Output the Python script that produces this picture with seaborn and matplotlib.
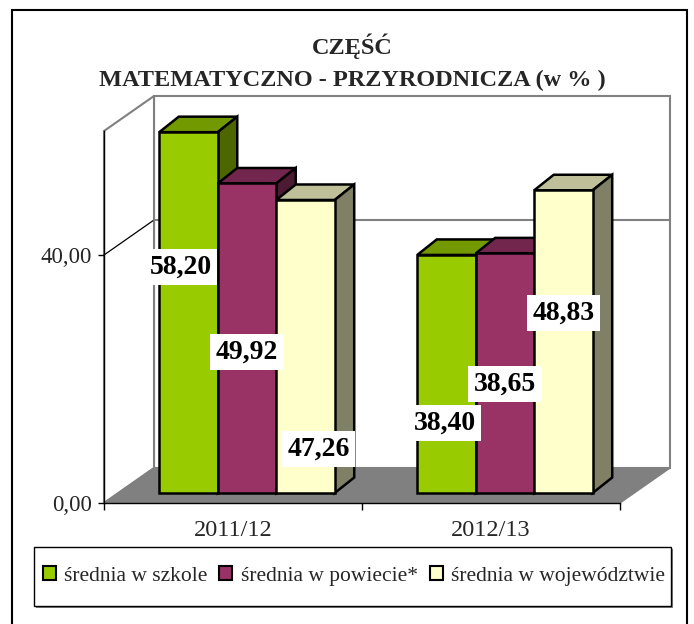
import numpy as np
import pandas as pd
import seaborn as sns
import matplotlib
matplotlib.use('Agg')
import matplotlib.pyplot as plt
from matplotlib.patches import Polygon, Rectangle
from matplotlib.lines import Line2D

# ---------------- data ----------------
years = ['2011/12', '2012/13']
series = ['średnia w szkole', 'średnia w powiecie*', 'średnia w województwie']
szkola = [58.20, 38.40]
powiat = [49.92, 38.65]
wojewodztwo = [47.26, 48.83]
y_ticks = [0, 40]
y_tick_labels = ['0,00', '40,00']
title_lines = ['CZĘŚĆ', 'MATEMATYCZNO - PRZYRODNICZA (w % )']

# ---------------- styles / layout ----------------
front_colors = ['#99CC00', '#993366', '#FFFFCC']
top_colors = ['#739900', '#73264D', '#BFBF99']
side_colors = ['#4D6600', '#4D1A33', '#808066']
# label placement (height above bar base, in axis units) and x shift in px, ordered by bar position
label_y = [36.4, 22.7, 7.1, 11.3, 17.6, 29.0]
label_dx_px = [-8, 0, 13, -2, 0, 0]

df = pd.DataFrame({
    'rok': years * 3,
    'seria': np.repeat(series, len(years)),
    'wartosc': szkola + powiat + wojewodztwo,
})

sns.set_theme(style='white')
plt.rcParams['font.family'] = ['Liberation Serif', 'DejaVu Serif']
SERIF = ['Liberation Serif', 'DejaVu Serif']

W, H = 694, 624
fig = plt.figure(figsize=(W / 100, H / 100), dpi=100)
fig.patch.set_facecolor('white')
ax = fig.add_axes([104 / W, 1 - 503 / H, 516 / W, 372 / H])

sns.barplot(data=df, x='rok', y='wartosc', hue='seria', hue_order=series,
            palette=front_colors, width=0.68, saturation=1, errorbar=None,
            edgecolor='black', linewidth=1.8, ax=ax)

ax.set_xlim(-0.5, 1.5)
ax.set_ylim(0, 60)
ax.patch.set_visible(False)
ax.set_xlabel('')
ax.set_ylabel('')

ux = 516 / 2.0   # px per category unit
uy = 372 / 60.0  # px per value unit


def d(dx, dy):
    return dx / ux, dy / uy


# walls and floor
wdx, wdy = d(50, 35)
x0a, x1a, ytop = -0.5, 1.5, 60
floor = Polygon([(x0a, 0), (x1a, 0), (x1a + wdx, wdy), (x0a + wdx, wdy)],
                closed=True, fc='#808080', ec='#808080', lw=1, zorder=0.6, clip_on=False)
back = Rectangle((x0a + wdx, wdy), x1a - x0a, ytop, fc='white', ec='#808080', lw=1.5,
                 zorder=0.5, clip_on=False)
side_wall = Polygon([(x0a, 0), (x0a + wdx, wdy), (x0a + wdx, ytop + wdy), (x0a, ytop)],
                    closed=True, fc='white', ec='#808080', lw=1.5, zorder=0.5, clip_on=False)
bars = sorted([p for p in ax.patches if isinstance(p, Rectangle) and p.get_height() > 0],
              key=lambda p: p.get_x())
for p in (back, side_wall, floor):
    ax.add_patch(p)
for t in y_ticks[1:]:
    ax.add_line(Line2D([x0a, x0a + wdx], [t, t + wdy], color='black', lw=0.9, zorder=0.7, clip_on=False))
    ax.add_line(Line2D([x0a + wdx, x1a + wdx], [t + wdy, t + wdy], color='#808080', lw=1.5,
                       zorder=0.7, clip_on=False))

# 3D bars built on seaborn's bars
fdx, fdy = d(14, 10)
bdx, bdy = d(19.5, 15.5)
for k, bar in enumerate(bars):
    s = k % 3
    h = bar.get_height()
    w = bar.get_width()
    bar.set_x(bar.get_x() + fdx)
    bar.set_y(fdy)
    bar.set_clip_on(False)
    bx0, bx1 = bar.get_x(), bar.get_x() + w
    by0, by1 = fdy, fdy + h
    z = 3 + k * 0.01
    top = Polygon([(bx0, by1), (bx1, by1), (bx1 + bdx, by1 + bdy), (bx0 + bdx, by1 + bdy)],
                  closed=True, fc=top_colors[s], ec='black', lw=1.8, zorder=z, clip_on=False)
    side = Polygon([(bx1, by0), (bx1 + bdx, by0 + bdy), (bx1 + bdx, by1 + bdy), (bx1, by1)],
                   closed=True, fc=side_colors[s], ec='black', lw=1.8, zorder=z, clip_on=False)
    ax.add_patch(top)
    ax.add_patch(side)
    bar.set_zorder(z + 0.005)
    txt = f"{h:.2f}".replace('.', ',')
    ax.text((bx0 + bx1) / 2 + label_dx_px[k] / ux, by0 + label_y[k], txt,
            ha='center', va='center', fontsize=20, fontweight='bold', color='black',
            family=SERIF,
            bbox=dict(boxstyle='square,pad=0.2', fc='white', ec='none'), zorder=10, clip_on=False)

# axes
for sp in ('top', 'right'):
    ax.spines[sp].set_visible(False)
for sp in ('left', 'bottom'):
    ax.spines[sp].set_color('black')
    ax.spines[sp].set_linewidth(1.0)
    ax.spines[sp].set_zorder(2.5)
ax.spines['left'].set_bounds(0, 60)
ax.spines['bottom'].set_bounds(-0.5, 1.5)

ax.set_yticks(y_ticks, y_tick_labels)
ax.tick_params(axis='y', left=True, length=4.5, width=1, color='black', labelsize=16.5, pad=4)
ax.set_xticks(range(len(years)), years)
ax.set_xticks([-0.5, 0.5, 1.5], minor=True)
ax.tick_params(axis='x', which='major', bottom=False, length=0, labelsize=17.5, pad=12)
ax.tick_params(axis='x', which='minor', bottom=True, length=5, width=1, color='black')

# title
fig.text(352 / W, 1 - 46 / H, title_lines[0], ha='center', va='center', fontsize=17.5,
         fontweight='bold', family=SERIF)
fig.text(352 / W, 1 - 80 / H, title_lines[1], ha='center', va='center', fontsize=17.5,
         fontweight='bold', family=SERIF)

# legend box (Excel-style frame with shadow)
fig.add_artist(Rectangle(((34 + 2) / W, 1 - (606 + 2) / H), 637 / W, 59 / H,
                         transform=fig.transFigure, fc='#808080', ec='none', zorder=4))
fig.add_artist(Rectangle((34 / W, 1 - 606 / H), 637 / W, 59 / H,
                         transform=fig.transFigure, fc='white', ec='black', lw=1.0, zorder=4.5))

# legend (seaborn's handles, re-laid out)
old = ax.get_legend()
handles = list(old.legend_handles)
labels = [t.get_text() for t in old.get_texts()]
old.remove()
leg = fig.legend(handles, labels, loc='center', bbox_to_anchor=(354 / W, 1 - 576 / H),
                 bbox_transform=fig.transFigure, ncol=3, title=None,
                 frameon=False, prop={'family': SERIF, 'size': 15.5},
                 handlelength=0.6, handleheight=0.6, handletextpad=0.4,
                 borderpad=0.2, columnspacing=0.55, borderaxespad=0)
leg.set_zorder(5)
for hnd in leg.legend_handles:
    hnd.set_edgecolor('black')
    hnd.set_linewidth(1.5)

# outer border
fig.add_artist(Rectangle((12 / W, -0.01), (687 - 12) / W, 1 - 10 / H + 0.01,
                         transform=fig.transFigure, fill=False, ec='black', lw=1.5))

fig.savefig('out.png', dpi=100, facecolor='white')
